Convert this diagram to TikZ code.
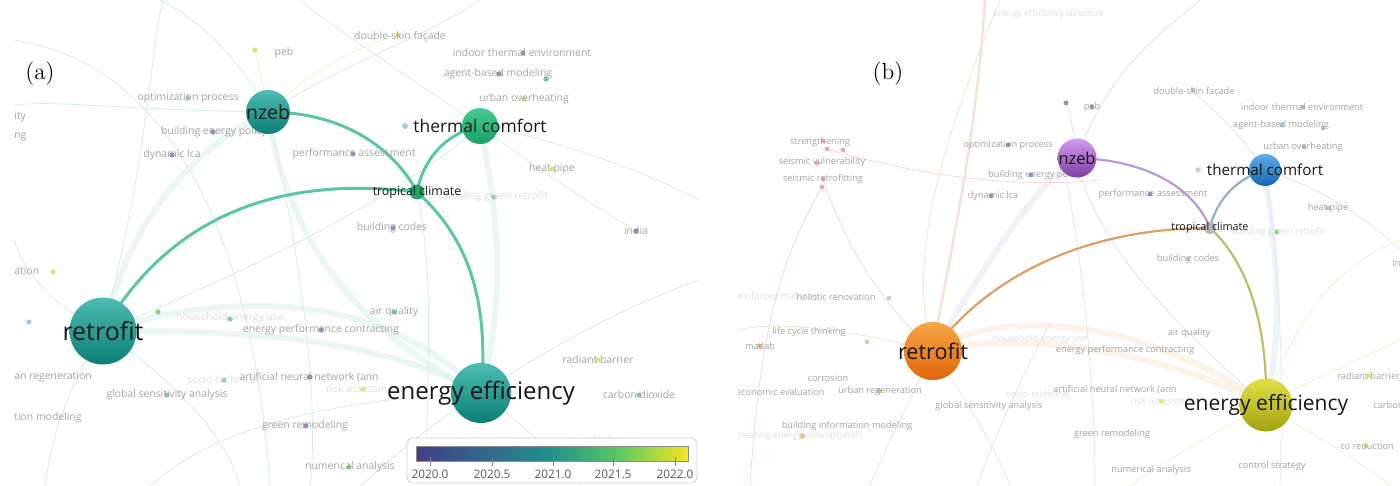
\documentclass[tikz,border=0pt]{standalone}
\usepackage{fontspec}
\newfontfamily\vos{Open Sans}
\usetikzlibrary{calc}

\definecolor{tealtop}{HTML}{4DBDB3}
\definecolor{tealbot}{HTML}{0B7E75}
\definecolor{greentop}{HTML}{45CC92}
\definecolor{greenbot}{HTML}{17A067}
\definecolor{tropgreen}{HTML}{22A468}
\definecolor{linkmint}{HTML}{5CC79E}
\definecolor{bgmint}{HTML}{D3EEE7}
\definecolor{bgyel}{HTML}{F3F1C8}
\definecolor{hubblack}{HTML}{161616}
\definecolor{kwgrey}{HTML}{A2A2A2}
\definecolor{kwfaint}{HTML}{DEDEDE}
\definecolor{purptop}{HTML}{D59CF2}
\definecolor{purpbot}{HTML}{7A3E9E}
\definecolor{bluetop}{HTML}{5FAEEA}
\definecolor{bluebot}{HTML}{1566B2}
\definecolor{orantop}{HTML}{F7A646}
\definecolor{oranbot}{HTML}{E0660A}
\definecolor{olivtop}{HTML}{E2E045}
\definecolor{olivbot}{HTML}{A3A312}
\definecolor{tropgrey}{HTML}{B8B8B8}
\definecolor{linkpurp}{HTML}{B99BD2}
\definecolor{linkblue}{HTML}{8DAFD0}
\definecolor{linkoran}{HTML}{DDA062}
\definecolor{linkoliv}{HTML}{BDBD66}
\definecolor{bgoran}{HTML}{F8E2CC}
\definecolor{bgpurp}{HTML}{E9DCF2}
\definecolor{bgblue}{HTML}{D8E8F6}
\definecolor{bgred}{HTML}{F8D6D6}
\definecolor{bggreen}{HTML}{D4EEDC}
\definecolor{dotpurp}{HTML}{9088BE}
\definecolor{dotyel}{HTML}{E9E070}
\definecolor{dotgreen}{HTML}{86CE8E}
\definecolor{dotteal}{HTML}{72C0B2}
\definecolor{dotblue}{HTML}{A8C8DC}
\definecolor{dotred}{HTML}{F2A8A8}
\definecolor{dotoran}{HTML}{F5B274}
\definecolor{dotgrey}{HTML}{D0D0D0}
\definecolor{vir0}{HTML}{433E85}
\definecolor{vir1}{HTML}{31688E}
\definecolor{vir2}{HTML}{21918C}
\definecolor{vir3}{HTML}{5EC962}
\definecolor{vir4}{HTML}{F4E61E}

\pgfdeclarehorizontalshading{viridisbar}{100bp}{color(0bp)=(vir0); color(25bp)=(vir0); color(37.5bp)=(vir1); color(50bp)=(vir2); color(62.5bp)=(vir3); color(75bp)=(vir4); color(100bp)=(vir4)}

\tikzset{
  hub/.style={circle, inner sep=0pt, draw=none},
  hubtext/.style={font=\vos\fontsize{#1}{#1}\selectfont, text=hubblack, inner sep=0pt},
  kwA/.style={font=\vos\fontsize{5.2}{6}\selectfont, text=kwgrey, inner sep=0pt},
  kwAf/.style={kwA, text=kwfaint},
  kwB/.style={font=\vos\fontsize{4.6}{5}\selectfont, text=kwgrey, inner sep=0pt},
  kwBf/.style={kwB, text=kwfaint},
  linkA/.style={line width=1.5pt, draw=linkmint},
  linkB/.style={line width=1.1pt},
  bgline/.style={line width=0.4pt},
  bgband/.style={line width=3pt, draw opacity=0.45},
  panel/.style={font=\fontsize{11.7}{12}\selectfont, inner sep=0pt},
}

\begin{document}
\begin{tikzpicture}[x=0.5pt, y=-0.5pt]
\useasboundingbox (0,0) rectangle (1400,486);

% ---------- (a) overlay by year ----------
\begin{scope}
\clip (14,0) rectangle (700,486);
\coordinate (nzA) at (268,112);
\coordinate (tcA) at (480,126);
\coordinate (trA) at (417,192);
\coordinate (rfA) at (103,331);
\coordinate (eeA) at (481,393);

% faint links
\draw[bgband, bgmint] (rfA) .. controls (250,285) and (390,300) .. (eeA);
\draw[bgband, bgmint] (rfA) .. controls (260,330) and (380,340) .. (eeA);
\draw[bgband, bgmint] (nzA) .. controls (285,230) and (350,330) .. (eeA);
\draw[bgband, bgmint] (nzA) .. controls (190,150) and (130,220) .. (rfA);
\draw[bgband, bgmint] (tcA) .. controls (500,220) and (505,300) .. (eeA);
\draw[bgline, bgmint] (rfA) .. controls (150,150) and (150,50) .. (163,0);
\draw[bgline, bgmint] (rfA) .. controls (200,400) and (230,450) .. (240,486);
\draw[bgline, bgmint] (rfA) .. controls (60,400) and (50,450) .. (45,486);
\draw[bgline, bgmint] (rfA) .. controls (300,250) and (420,180) .. (tcA);
\draw[bgline, bgmint] (rfA) .. controls (40,300) and (20,260) .. (14,240);
\draw[bgline, bgmint] (eeA) .. controls (560,340) and (640,300) .. (700,280);
\draw[bgline, bgmint] (eeA) .. controls (420,430) and (380,470) .. (360,486);
\draw[bgline, bgmint] (eeA) .. controls (530,430) and (560,460) .. (580,486);
\draw[bgline, bgmint] (eeA) .. controls (300,400) and (200,440) .. (150,486);
\draw[bgline, bgmint] (nzA) .. controls (230,40) and (180,10) .. (160,0);
\draw[bgline, bgmint] (nzA) .. controls (120,110) and (60,100) .. (14,105);
\draw[bgline, bgmint] (nzA) .. controls (350,60) and (420,40) .. (480,0);
\draw[bgline, bgmint] (nzA) .. controls (300,250) and (320,400) .. (310,486);
\draw[bgline, bgmint] (tcA) .. controls (560,140) and (640,170) .. (700,200);
\draw[bgline, bgmint] (tcA) .. controls (400,70) and (350,40) .. (300,0);
\draw[bgline, bgmint] (tcA) .. controls (580,200) and (620,220) .. (636,231);
\draw[bgline, bgmint] (trA) .. controls (440,300) and (420,420) .. (430,486);
\draw[bgline, bgmint] (14,40) .. controls (150,60) and (250,200) .. (270,486);
\draw[bgline, bgyel] (nzA) .. controls (262,80) and (258,60) .. (255,50);
\draw[bgline, bgyel] (nzA) .. controls (320,60) and (380,40) .. (398,35);

% links of tropical climate
\draw[linkA] (nzA) .. controls (345,112) and (395,150) .. (trA);
\draw[linkA] (trA) .. controls (465,235) and (490,295) .. (eeA);
\draw[linkA] (trA) .. controls (422,165) and (440,135) .. (tcA);
\draw[linkA] (rfA) .. controls (170,215) and (280,175) .. (trA);

% keyword dots
\fill[dotyel] (255,50) circle (1.3pt);
\fill[dotyel] (398,35) circle (1.3pt);
\fill[dotpurp] (523,53) circle (1.3pt);
\fill[dotpurp] (499,74) circle (1.3pt);
\fill[dotteal] (546,79) circle (1.3pt);
\fill[dotyel] (524,99) circle (1.3pt);
\fill[dotblue] (188,98) circle (1.3pt);
\fill[dotpurp] (213,132) circle (1.3pt);
\fill[dotpurp] (172,155) circle (1.3pt);
\fill[dotpurp] (353,154) circle (1.3pt);
\fill[dotblue] (405,126) circle (1.5pt);
\fill[dotyel] (552,169) circle (1.3pt);
\fill[dotgreen] (494,197) circle (1.3pt);
\fill[dotpurp] (393,228) circle (1.3pt);
\fill[dotpurp] (636,231) circle (1.3pt);
\fill[dotyel] (53,272) circle (1.3pt);
\fill[dotblue] (29,322) circle (1.3pt);
\fill[dotgreen] (158,312) circle (1.3pt);
\fill[dotgreen] (230,319) circle (1.3pt);
\fill[dotpurp] (321,330) circle (1.3pt);
\fill[dotteal] (394,312) circle (1.3pt);
\fill[dotgreen] (224,380) circle (1.3pt);
\fill[dotpurp] (310,377) circle (1.3pt);
\fill[dotyel] (363,389) circle (1.3pt);
\fill[dotgreen] (167,395) circle (1.3pt);
\fill[dotpurp] (306,426) circle (1.3pt);
\fill[dotyel] (598,360) circle (1.3pt);
\fill[dotgreen] (639,395) circle (1.3pt);
\fill[dotgreen] (349,467) circle (1.3pt);

% keywords
\node[kwA] (kDsf) at (400,37) {double-skin façade};
\node[kwA] (kPeb) at (284,53) {peb};
\node[kwA] (kIte) at (522,53) {indoor thermal environment};
\node[kwA] (kAbm) at (498,74) {agent-based modeling};
\node[kwA] (kUoh) at (524,99) {urban overheating};
\node[kwA] (kOpt) at (188,98) {optimization process};
\node[kwA, anchor=west] (kIty) at (14,117) {ity};
\node[kwA, anchor=west] (kNg) at (14,137) {ng};
\node[kwA] (kBep) at (214,132) {building energy policy};
\node[kwA] (kLca) at (172,155) {dynamic lca};
\node[kwA] (kPas) at (354,154) {performance assessment};
\node[kwA] (kHp) at (552,169) {heat pipe};
\node[kwAf] (kBgr) at (495,197) {building green retrofit};
\node[kwA] (kBc) at (392,228) {building codes};
\node[kwA] (kInd) at (636,231) {india};
\node[kwA, anchor=west] (kAtn) at (14,271) {ation};
\node[kwAf] (kHeu) at (230,318) {household energy use};
\node[kwA] (kEpc) at (321,330) {energy performance contracting};
\node[kwA] (kAq) at (394,312) {air quality};
\node[kwAf] (kSoc) at (223,380) {socio-technical};
\node[kwA] (kAnn) at (309,377) {artificial neural network (ann};
\node[kwAf] (kRa) at (365,389) {risk assessment};
\node[kwA] (kGsa) at (167,395) {global sensitivity analysis};
\node[kwA, anchor=west] (kReg) at (14,377) {an regeneration};
\node[kwA, anchor=west] (kMod) at (14,418) {tion modeling};
\node[kwA] (kGr) at (305,426) {green remodeling};
\node[kwA] (kRb) at (598,360) {radiant barrier};
\node[kwA] (kCd) at (639,395) {carbon dioxide};
\node[kwAf] (kCo) at (596,440) {co reduction};
\node[kwAf] (kCs) at (488,463) {control strategy};
\node[kwA] (kNa) at (350,467) {numerical analysis};

% main terms
\node[hub, minimum size=22pt, top color=tealtop, bottom color=tealbot] (nzebA) at (nzA) {};
\node[hub, minimum size=18pt, top color=greentop, bottom color=greenbot] (thermalA) at (tcA) {};
\node[hub, minimum size=7.5pt, fill=tropgreen] (tropicalA) at (trA) {};
\node[hub, minimum size=33.5pt, top color=tealtop, bottom color=tealbot] (retrofitA) at (rfA) {};
\node[hub, minimum size=30pt, top color=tealtop, bottom color=tealbot] (effA) at (eeA) {};
\node[hubtext=9.7] (nzebAlab) at (nzA) {nzeb};
\node[hubtext=8.7] (thermalAlab) at (tcA) {thermal comfort};
\node[hubtext=6.2] (tropicalAlab) at (trA) {tropical climate};
\node[hubtext=12.5] (retrofitAlab) at (rfA) {retrofit};
\node[hubtext=12] (effAlab) at (eeA) {energy efficiency};

% colour scale
\draw[draw=black!18, fill=white, fill opacity=0.85, rounded corners=3pt] (407,438) rectangle (697,483);
\shade[shading=viridisbar] (416,446) rectangle (688,461);
\draw[black!45, line width=0.5pt] (416,446) rectangle (688,461);
\draw[black!50, line width=0.5pt] (430,457) -- (430,466);
\draw[black!50, line width=0.5pt] (492,457) -- (492,466);
\draw[black!50, line width=0.5pt] (553,457) -- (553,466);
\draw[black!50, line width=0.5pt] (613,457) -- (613,466);
\draw[black!50, line width=0.5pt] (675,457) -- (675,466);
\node[font=\vos\fontsize{5.9}{6}\selectfont, text=black!65, inner sep=0pt] (yA) at (430,474) {2020.0};
\node[font=\vos\fontsize{5.9}{6}\selectfont, text=black!65, inner sep=0pt] (yB) at (492,474) {2020.5};
\node[font=\vos\fontsize{5.9}{6}\selectfont, text=black!65, inner sep=0pt] (yC) at (553,474) {2021.0};
\node[font=\vos\fontsize{5.9}{6}\selectfont, text=black!65, inner sep=0pt] (yD) at (613,474) {2021.5};
\node[font=\vos\fontsize{5.9}{6}\selectfont, text=black!65, inner sep=0pt] (yE) at (675,474) {2022.0};

\node[panel] (labA) at (40,74) {(a)};
\end{scope}

% ---------- (b) clusters ----------
\begin{scope}
\clip (738,0) rectangle (1400,486);
\coordinate (nzB) at (1077,158);
\coordinate (tcB) at (1265,170);
\coordinate (trB) at (1210,228);
\coordinate (rfB) at (933,351);
\coordinate (eeB) at (1266,405);

% faint links
\draw[bgband, bgoran] (rfB) .. controls (1000,305) and (1150,320) .. (eeB);
\draw[bgband, bgoran] (rfB) .. controls (1020,330) and (1160,350) .. (eeB);
\draw[bgline, bgoran, line width=1.2pt] (rfB) .. controls (950,250) and (975,150) .. (985,0);
\draw[bgband, bgpurp] (nzB) .. controls (1030,190) and (990,260) .. (rfB);
\draw[bgband, bgblue] (tcB) .. controls (1275,250) and (1285,320) .. (eeB);
\draw[bgline, bgpurp] (nzB) .. controls (1090,240) and (1180,330) .. (eeB);
\draw[bgline, bgpurp] (nzB) .. controls (1070,110) and (1068,105) .. (1066,103);
\draw[bgline, bgpurp] (nzB) .. controls (1110,60) and (1180,20) .. (1200,0);
\draw[bgline, bgblue] (1060,150) .. controls (1085,260) and (1095,400) .. (1095,486);
\draw[bgline, bgblue] (tcB) .. controls (1285,300) and (1282,420) .. (1280,486);
\draw[bgline, bgblue] (tcB) .. controls (1230,120) and (1200,100) .. (1193,90);
\draw[bgline, bgblue] (tcB) .. controls (1330,190) and (1380,230) .. (1400,250);
\draw[bgline, bgred] (823,179) .. controls (850,260) and (890,310) .. (rfB);
\draw[bgline, bgred] (827,149) .. controls (900,170) and (1000,190) .. (1100,180);
\draw[bgline, bgred] (822,187) .. controls (780,260) and (760,330) .. (750,486);
\draw[bgline, bgoran] (rfB) .. controls (900,420) and (880,460) .. (870,486);
\draw[bgline, bgoran] (rfB) .. controls (980,420) and (1000,460) .. (1010,486);
\draw[bgline, bgoran] (rfB) .. controls (850,330) and (780,320) .. (738,330);
\draw[bgline, bgoran] (rfB) .. controls (900,250) and (960,100) .. (1000,0);
\draw[bgline, bggreen] (1050,323) .. controls (1010,400) and (990,450) .. (977,486);
\draw[bgline, bgyel] (eeB) .. controls (1330,370) and (1380,350) .. (1400,340);
\draw[bgline, bgyel] (eeB) .. controls (1320,440) and (1360,460) .. (1390,486);
\draw[bgline, bgyel] (eeB) .. controls (1300,300) and (1350,260) .. (1400,240);
\draw[bgline, bgyel] (eeB) .. controls (1200,440) and (1150,470) .. (1130,486);

% links of tropical climate
\draw[linkB, linkpurp] (nzB) .. controls (1150,160) and (1195,190) .. (trB);
\draw[linkB, linkoliv] (trB) .. controls (1240,255) and (1268,310) .. (eeB);
\draw[linkB, linkblue] (trB) .. controls (1215,205) and (1232,180) .. (tcB);
\draw[linkB, linkoran] (rfB) .. controls (985,280) and (1080,228) .. (trB);

% keyword dots
\fill[dotred] (823,141) circle (1.2pt);
\fill[dotred] (827,149) circle (1.2pt);
\fill[dotred] (843,150) circle (1.2pt);
\fill[dotred] (817,163) circle (1.2pt);
\fill[dotred] (823,179) circle (1.2pt);
\fill[dotred] (822,187) circle (1.2pt);
\fill[dotpurp] (1008,145) circle (1.2pt);
\fill[dotpurp] (1031,175) circle (1.2pt);
\fill[dotpurp] (991,196) circle (1.2pt);
\fill[dotpurp] (1092,107) circle (1.2pt);
\fill[dotpurp] (1066,103) circle (1.2pt);
\fill[dotblue] (1193,90) circle (1.2pt);
\fill[dotblue] (1303,107) circle (1.2pt);
\fill[dotblue] (1282,125) circle (1.2pt);
\fill[dotblue] (1323,128) circle (1.2pt);
\fill[dotblue] (1304,147) circle (1.2pt);
\fill[dotgrey] (1198,170) circle (1.4pt);
\fill[dotpurp] (1150,194) circle (1.2pt);
\fill[dotblue] (1328,208) circle (1.2pt);
\fill[dotgreen] (1277,232) circle (1.2pt);
\fill[dotgrey] (1188,259) circle (1.2pt);
\fill[dotgrey] (889,298) circle (1.2pt);
\fill[dotgrey] (867,342) circle (1.2pt);
\fill[dotoran] (760,346) circle (1.2pt);
\fill[dotoran] (802,436) circle (1.4pt);
\fill[dotoran] (879,391) circle (1.2pt);
\fill[dotyel] (1161,401) circle (1.2pt);
\fill[dotyel] (1369,376) circle (1.2pt);
\fill[dotyel] (1366,446) circle (1.2pt);

% keywords
\node[kwBf] (mEed) at (1048,14) {energy efficiency directive};
\node[kwB] (mStr) at (820,142) {strengthening};
\node[kwB] (mSv) at (822,162) {seismic vulnerability};
\node[kwB] (mSr) at (823,179) {seismic retrofitting};
\node[kwB] (mOpt) at (1008,145) {optimization process};
\node[kwB] (mBep) at (1035,175) {building energy policy};
\node[kwB] (mLca) at (993,196) {dynamic lca};
\node[kwB] (mPeb) at (1092,107) {peb};
\node[kwB] (mDsf) at (1194,92) {double-skin façade};
\node[kwB] (mIte) at (1302,107) {indoor thermal environment};
\node[kwB] (mAbm) at (1281,125) {agent-based modeling};
\node[kwB] (mUoh) at (1303,147) {urban overheating};
\node[kwB] (mPas) at (1153,194) {performance assessment};
\node[kwB] (mHp) at (1328,208) {heat pipe};
\node[kwBf] (mBgr) at (1278,232) {building green retrofit};
\node[kwB] (mBc) at (1188,259) {building codes};
\node[kwB, anchor=west] (mInd) at (1392,263) {india};
\node[kwBf, anchor=west] (mRm) at (734,297) {reinforced masonry};
\node[kwB] (mHr) at (836,297) {holistic renovation};
\node[kwB] (mLct) at (809,332) {life cycle thinking};
\node[kwB] (mMat) at (760,346) {matlab};
\node[kwB] (mCor) at (828,378) {corrosion};
\node[kwB, anchor=east] (mEcon) at (825,392) {economic evaluation};
\node[kwB] (mUr) at (880,391) {urban regeneration};
\node[kwB] (mGsa) at (989,406) {global sensitivity analysis};
\node[kwB] (mBim) at (847,426) {building information modeling};
\node[kwBf] (mHec) at (800,436) {heating energy consumption};
\node[kwBf] (mHeu) at (1040,339) {household energy use};
\node[kwB] (mAq) at (1189,333) {air quality};
\node[kwB] (mEpc) at (1125,350) {energy performance contracting};
\node[kwBf] (mSoc) at (1038,394) {socio-technical};
\node[kwB] (mAnn) at (1115,390) {artificial neural network (ann};
\node[kwBf] (mRa) at (1165,401) {risk assessment};
\node[kwB] (mGr) at (1112,434) {green remodeling};
\node[kwB] (mNa) at (1151,470) {numerical analysis};
\node[kwB] (mCs) at (1272,466) {control strategy};
\node[kwB, anchor=west] (mRb) at (1337,376) {radiant barrier};
\node[kwB, anchor=west] (mCd) at (1373,405) {carbon dioxide};
\node[kwB] (mCo) at (1367,446) {co reduction};

% main terms
\node[hub, minimum size=19.5pt, top color=purptop, bottom color=purpbot] (nzebB) at (nzB) {};
\node[hub, minimum size=16pt, top color=bluetop, bottom color=bluebot] (thermalB) at (tcB) {};
\node[hub, minimum size=6pt, fill=tropgrey] (tropicalB) at (trB) {};
\node[hub, minimum size=29pt, top color=orantop, bottom color=oranbot] (retrofitB) at (rfB) {};
\node[hub, minimum size=26.5pt, top color=olivtop, bottom color=olivbot] (effB) at (eeB) {};
\node[hubtext=8.2] (nzebBlab) at (nzB) {nzeb};
\node[hubtext=7.6] (thermalBlab) at (tcB) {thermal comfort};
\node[hubtext=5.4] (tropicalBlab) at (trB) {tropical climate};
\node[hubtext=10.8] (retrofitBlab) at (rfB) {retrofit};
\node[hubtext=10.5] (effBlab) at (eeB) {energy efficiency};

\node[panel] (labB) at (888,74) {(b)};
\end{scope}
\end{tikzpicture}
\end{document}
